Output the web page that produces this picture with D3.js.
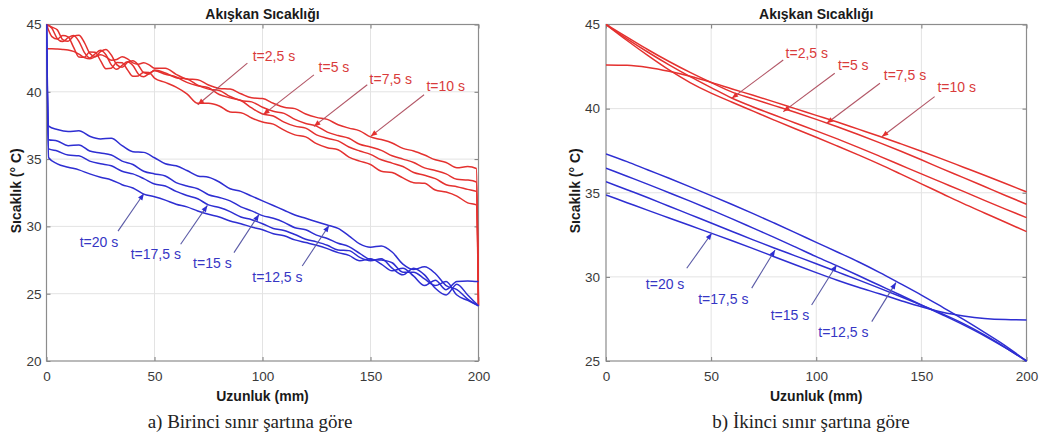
<!DOCTYPE html>
<html><head><meta charset="utf-8">
<script src="https://cdn.jsdelivr.net/npm/d3@7"></script>
<style>
body{margin:0;background:#fff;}
svg{display:block;font-family:Arial,"Liberation Sans",Helvetica,sans-serif;}
</style>
</head><body>
<svg id="chart" width="1040" height="439"></svg>
<script>
// ---------- data ----------
const xTicks = [0, 50, 100, 150, 200];
const yTicksLeft = [20, 25, 30, 35, 40, 45];
const yTicksRight = [25, 30, 35, 40, 45];
const redLabels = ["t=2,5 s", "t=5 s", "t=7,5 s", "t=10 s"];
const blueLabels = ["t=12,5 s", "t=15 s", "t=17,5 s", "t=20 s"];

// Panel a (first boundary condition)
const xRedA = [0,2.5,5,7.5,10,12.5,15,17.5,20,22.5,25,27.5,30,32.5,35,37.5,40,42.5,45,47.5,50,
  55,60,65,70,75,80,85,90,95,100,105,110,115,120,125,130,135,140,145,150,155,160,165,170,175,180,185,190,195,199,200];
const redA_t2_5 = [45,44.1,43.92,44.18,44.08,43.32,42.58,42.56,42.96,42.93,42.32,41.72,41.75,42.17,42.16,41.63,41.15,41.18,41.46,41.44,41.02,
  40.7,40.35,39.85,39.15,39.15,38.95,38.5,38.45,38.05,37.75,37.6,37.15,36.8,36.65,36.15,35.85,35.7,35.15,34.85,34.6,34.1,34.0,33.6,33.25,33.2,32.7,32.55,32.25,31.75,31.6,24.1];
const redA_t5 = [45,44.72,43.95,43.73,44.02,44.18,43.75,42.93,42.52,42.82,43.08,42.75,42.0,41.67,41.97,42.23,41.95,41.33,41.12,41.36,41.56,
  41.3,41.1,40.7,40.45,40.3,39.8,39.55,39.35,38.8,38.35,38.2,37.75,37.45,37.3,36.8,36.55,36.35,35.9,35.6,35.35,34.95,34.7,34.45,34.0,33.8,33.55,33.1,32.95,32.75,32.6,24.1];
const redA_t7_5 = [45,44.8,44.6,43.88,43.75,44.12,44.2,43.68,42.87,42.62,42.98,43.15,42.73,42.02,41.82,42.18,42.3,41.98,41.42,41.32,41.62,
  41.4,41.05,40.95,40.5,40.2,40.1,39.65,39.35,39.25,38.85,38.55,38.4,37.95,37.65,37.45,37.0,36.75,36.55,36.1,35.9,35.65,35.25,35.0,34.75,34.35,34.15,33.9,33.5,33.45,33.3,24.1];
const redA_t10 = [43.2,43.2,43.18,43.15,43.1,43.0,42.8,42.55,42.45,42.6,42.75,42.6,42.35,42.4,42.6,42.45,42.15,42.05,42.15,42.0,41.75,
  41.75,41.3,40.95,40.9,40.5,40.25,40.2,39.85,39.55,39.5,39.15,38.85,38.75,38.35,38.1,37.95,37.55,37.3,37.1,36.65,36.45,36.2,35.8,35.6,35.3,34.95,34.75,34.35,34.45,34.3,24.1];

const xBlueA = [0,1,5,10,15,20,25,30,35,40,45,50,55,60,65,70,75,80,85,90,95,100,105,110,115,120,125,130,135,140,145,150,155,160,165,170,175,180,185,190,195,200];
const blueA_t12_5 = [45,37.45,37.2,37.05,37.1,36.7,36.5,36.55,36.0,35.55,35.5,35.1,34.65,34.5,34.15,33.75,33.65,33.3,32.8,32.6,32.25,31.9,31.55,31.2,30.85,30.6,30.35,30.1,29.85,29.3,28.7,28.45,28.55,28.1,27.2,26.8,27.0,26.5,25.6,25.3,24.6,24.1];
const blueA_t15 = [45,36.44,36.35,36.0,36.05,35.6,35.45,35.3,34.85,34.6,34.1,33.9,33.75,33.25,33.0,32.8,32.35,32.15,31.9,31.45,31.15,30.8,30.6,30.3,29.9,29.75,29.35,29.1,28.75,28.5,28.0,27.55,27.5,27.3,26.6,26.6,26.1,25.6,25.9,24.9,24.5,24.1];
const blueA_t17_5 = [45,35.76,35.6,35.3,35.25,34.85,34.65,34.5,34.1,33.9,33.55,33.15,33.0,32.6,32.3,32.05,31.6,31.4,31.1,30.7,30.5,30.2,29.85,29.7,29.4,29.05,28.85,28.6,28.25,28.2,27.7,27.45,27.6,26.9,26.4,26.9,26.4,25.4,24.9,25.7,24.9,24.1];
const blueA_t20 = [45,35.1,34.65,34.4,34.2,33.9,33.65,33.45,33.1,32.85,32.4,32.2,31.95,31.65,31.45,31.15,30.9,30.7,30.4,30.2,29.95,29.75,29.45,29.3,29.0,28.8,28.6,28.35,28.05,27.85,27.45,27.6,27.2,26.7,26.9,26.3,25.6,26.0,25.3,25.9,25.95,25.9];

// Panel b (second boundary condition)
const xB = [0,10,20,30,40,50,60,70,80,90,100,110,120,130,140,150,160,170,180,190,200];
const redB_t2_5 = [45,44.05,43.15,42.3,41.55,40.92,40.38,39.85,39.32,38.8,38.3,37.78,37.25,36.7,36.12,35.53,34.94,34.35,33.8,33.25,32.69];
const redB_t5 = [45,44.15,43.35,42.6,41.9,41.25,40.62,40.1,39.62,39.15,38.68,38.2,37.7,37.18,36.65,36.12,35.6,35.08,34.55,34.03,33.52];
const redB_t7_5 = [45,44.25,43.5,42.8,42.15,41.55,40.98,40.58,40.18,39.78,39.36,38.92,38.46,37.98,37.48,36.96,36.42,35.9,35.37,34.84,34.32];
const redB_t10 = [42.6,42.58,42.45,42.22,41.92,41.56,41.17,40.79,40.4,40.0,39.6,39.2,38.78,38.36,37.92,37.47,37.0,36.52,36.04,35.55,35.05];
const blueB_t12_5 = [37.31,36.85,36.35,35.86,35.35,34.83,34.3,33.76,33.2,32.63,32.05,31.48,30.9,30.27,29.6,28.92,28.2,27.47,26.7,25.9,25.0];
const blueB_t15 = [36.46,35.98,35.5,35.0,34.5,33.98,33.45,32.9,32.35,31.78,31.2,30.65,30.08,29.5,28.92,28.33,27.75,27.15,26.5,25.78,25.0];
const blueB_t17_5 = [35.66,35.18,34.7,34.2,33.7,33.2,32.7,32.2,31.72,31.25,30.78,30.3,29.82,29.33,28.83,28.32,27.8,27.22,26.55,25.8,25.0];
const blueB_t20 = [34.87,34.41,33.95,33.5,33.05,32.6,32.15,31.68,31.2,30.72,30.25,29.8,29.38,29.0,28.6,28.22,27.9,27.68,27.53,27.46,27.44];

// ---------- annotation anchors (data units: label centre, arrow tail, arrow tip) ----------
const annA_red = [
  [[105.3,42.67],[93.0,42.13],[70.0,39.04]],
  [[133.1,41.80],[123.8,41.26],[100.3,38.30]],
  [[159.4,40.94],[148.5,40.52],[123.8,37.43]],
  [[184.8,40.39],[174.8,39.78],[150.1,36.69]]
];
const annA_blue = [
  [[106.9,26.27],[118.4,27.06],[130.8,30.07]],
  [[76.8,27.24],[86.8,28.05],[98.4,30.89]],
  [[50.6,27.93],[62.1,28.67],[74.5,31.56]],
  [[24.3,28.84],[33.1,29.65],[45.1,32.44]]
];
const annB_red = [
  [[95.5,43.29],[84.3,42.89],[59.8,40.61]],
  [[117.6,42.59],[108.8,42.10],[84.3,39.82]],
  [[142.2,42.00],[130.3,41.51],[105.0,39.13]],
  [[166.8,41.27],[156.3,40.71],[131.2,38.33]]
];
const annB_blue = [
  [[112.9,26.69],[126.4,27.34],[137.9,29.66]],
  [[87.5,27.74],[97.8,28.33],[109.7,30.71]],
  [[55.8,28.67],[69.3,29.33],[80.4,31.60]],
  [[28.1,29.58],[38.4,30.51],[50.3,32.59]]
];

// ---------- drawing ----------
const svg = d3.select("#chart");
const RED = "#e4312f", BLUE = "#2e2ed2";
const RED_TXT = "#d93b3b", BLUE_TXT = "#3636c4";
const RED_ARR = "#b25666", BLUE_ARR = "#5a5aa6";

function panel(cfg) {
  const g = svg.append("g");
  const x = d3.scaleLinear().domain([0, 200]).range([cfg.left, cfg.right]);
  const y = d3.scaleLinear().domain(cfg.yDomain).range([cfg.bottom, cfg.top]);
  const clipId = "clip" + cfg.id;
  svg.append("clipPath").attr("id", clipId).append("rect")
    .attr("x", cfg.left).attr("y", cfg.top - 1)
    .attr("width", cfg.right - cfg.left + 1).attr("height", cfg.bottom - cfg.top + 2);

  // grid
  g.append("g").selectAll("line").data(xTicks.slice(1, -1)).join("line")
    .attr("x1", d => x(d)).attr("x2", d => x(d)).attr("y1", cfg.top).attr("y2", cfg.bottom)
    .attr("stroke", "#e3e3e3").attr("stroke-width", 1);
  g.append("g").selectAll("line").data(cfg.yTicks.slice(1, -1)).join("line")
    .attr("y1", d => y(d)).attr("y2", d => y(d)).attr("x1", cfg.left).attr("x2", cfg.right)
    .attr("stroke", "#e3e3e3").attr("stroke-width", 1);

  // axes (inward ticks)
  const ax = g.append("g").attr("transform", `translate(0,${cfg.bottom})`)
    .call(d3.axisBottom(x).tickValues(xTicks).tickSizeInner(-4).tickSizeOuter(0).tickPadding(10));
  const ay = g.append("g").attr("transform", `translate(${cfg.left},0)`)
    .call(d3.axisLeft(y).tickValues(cfg.yTicks).tickSizeInner(-4).tickSizeOuter(0).tickPadding(cfg.yPad));
  const axT = g.append("g").attr("transform", `translate(0,${cfg.top})`)
    .call(d3.axisTop(x).tickValues(xTicks).tickSizeInner(-4).tickSizeOuter(0).tickFormat(""));
  const ayR = g.append("g").attr("transform", `translate(${cfg.right},0)`)
    .call(d3.axisRight(y).tickValues(cfg.yTicks).tickSizeInner(-4).tickSizeOuter(0).tickFormat(""));
  [ax, ay, axT, ayR].forEach(a => {
    a.select(".domain").remove();
    a.selectAll("line").attr("stroke", "#7a7a7a");
    a.selectAll("text").attr("font-size", "13.5px").attr("fill", "#3a3a3a")
      .attr("font-family", "Arial, 'Liberation Sans', sans-serif");
  });

  // frame
  g.append("rect").attr("x", cfg.left).attr("y", cfg.top)
    .attr("width", cfg.right - cfg.left).attr("height", cfg.bottom - cfg.top)
    .attr("fill", "none").attr("stroke", "#8c8c8c").attr("stroke-width", 1.2);

  // curves
  const lg = g.append("g").attr("clip-path", `url(#${clipId})`);
  const line = d3.line().x(d => x(d[0])).y(d => y(d[1])).curve(d3.curveMonotoneX);
  cfg.series.forEach(s => {
    const pts = s.xs.map((xv, i) => [xv, s.ys[i]]);
    lg.append("path").attr("d", line(pts)).attr("fill", "none")
      .attr("stroke", s.color).attr("stroke-width", 1.5).attr("stroke-linejoin", "round");
  });

  // annotations
  function annotate(list, labels, txtColor, arrColor, headColor) {
    list.forEach((a, i) => {
      const [lab, tail, tip] = a;
      const x1 = x(tail[0]), y1 = y(tail[1]), x2 = x(tip[0]), y2 = y(tip[1]);
      g.append("line").attr("x1", x1).attr("y1", y1).attr("x2", x2).attr("y2", y2)
        .attr("stroke", arrColor).attr("stroke-width", 1.1);
      const ang = Math.atan2(y2 - y1, x2 - x1);
      const L = 6.5, Wd = 2.6;
      const bx = x2 - L * Math.cos(ang), by = y2 - L * Math.sin(ang);
      const px = -Math.sin(ang) * Wd, py = Math.cos(ang) * Wd;
      g.append("path").attr("d", `M${x2},${y2}L${bx + px},${by + py}L${bx - px},${by - py}Z`)
        .attr("fill", headColor);
      g.append("text").attr("x", x(lab[0])).attr("y", y(lab[1])).attr("dy", "0.35em")
        .attr("text-anchor", "middle").attr("font-size", "14px").attr("fill", txtColor)
        .text(labels[i]);
    });
  }
  annotate(cfg.annRed, redLabels, RED_TXT, RED_ARR, RED);
  annotate(cfg.annBlue, blueLabels, BLUE_TXT, BLUE_ARR, BLUE);

  // titles
  const cx = (cfg.left + cfg.right) / 2;
  g.append("text").attr("x", cx).attr("y", 19).attr("text-anchor", "middle")
    .attr("font-size", "14px").attr("font-weight", "bold").attr("fill", "#1a1a1a")
    .text("Akışkan Sıcaklığı");
  g.append("text").attr("x", cx).attr("y", 400.5).attr("text-anchor", "middle")
    .attr("font-size", "14px").attr("font-weight", "bold").attr("fill", "#1a1a1a")
    .text("Uzunluk (mm)");
  g.append("text").attr("transform", `translate(${cfg.ylabX},${(cfg.top + cfg.bottom) / 2 - 2}) rotate(-90)`)
    .attr("text-anchor", "middle").attr("font-size", "14px").attr("font-weight", "bold")
    .attr("fill", "#1a1a1a").text("Sıcaklık (° C)");
  g.append("text").attr("x", cfg.capX).attr("y", 428).attr("text-anchor", "middle")
    .attr("font-family", "'Liberation Serif','Times New Roman',serif").attr("font-size", "19px")
    .attr("fill", "#222").text(cfg.caption);
}

panel({
  id: "A", left: 46.5, right: 478.5, top: 24.5, bottom: 361, yDomain: [20, 45], yTicks: yTicksLeft,
  yPad: 5, ylabX: 21, capX: 250, caption: "a) Birinci sınır şartına göre",
  series: [
    {xs: xRedA, ys: redA_t2_5, color: RED},
    {xs: xRedA, ys: redA_t5, color: RED},
    {xs: xRedA, ys: redA_t7_5, color: RED},
    {xs: xRedA, ys: redA_t10, color: RED},
    {xs: xBlueA, ys: blueA_t12_5, color: BLUE},
    {xs: xBlueA, ys: blueA_t15, color: BLUE},
    {xs: xBlueA, ys: blueA_t17_5, color: BLUE},
    {xs: xBlueA, ys: blueA_t20, color: BLUE}
  ],
  annRed: annA_red, annBlue: annA_blue
});
panel({
  id: "B", left: 606, right: 1026.5, top: 24.5, bottom: 361, yDomain: [25, 45], yTicks: yTicksRight,
  yPad: 6, ylabX: 580, capX: 811, caption: "b) İkinci sınır şartına göre",
  series: [
    {xs: xB, ys: redB_t2_5, color: RED},
    {xs: xB, ys: redB_t5, color: RED},
    {xs: xB, ys: redB_t7_5, color: RED},
    {xs: xB, ys: redB_t10, color: RED},
    {xs: xB, ys: blueB_t12_5, color: BLUE},
    {xs: xB, ys: blueB_t15, color: BLUE},
    {xs: xB, ys: blueB_t17_5, color: BLUE},
    {xs: xB, ys: blueB_t20, color: BLUE}
  ],
  annRed: annB_red, annBlue: annB_blue
});
</script>
</body></html>
